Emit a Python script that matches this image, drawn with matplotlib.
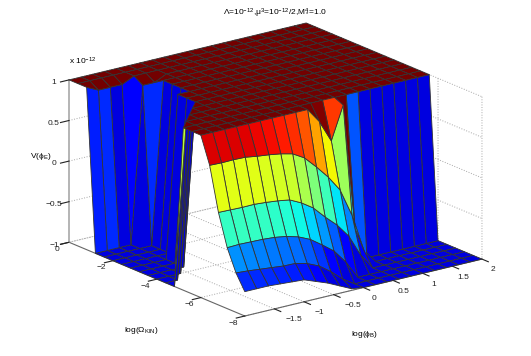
import numpy as np
import matplotlib
matplotlib.use("Agg")
import matplotlib.pyplot as plt
from matplotlib.colors import Normalize
from mpl_toolkits.mplot3d.art3d import Poly3DCollection

plt.rcParams["font.family"] = ["Liberation Sans", "DejaVu Sans"]
plt.rcParams["mathtext.fontset"] = "custom"
plt.rcParams["mathtext.rm"] = "Liberation Sans"
plt.rcParams["mathtext.it"] = "Liberation Sans"
plt.rcParams["mathtext.default"] = "regular"
plt.rcParams["grid.color"] = "#a8a8a8"
plt.rcParams["grid.linestyle"] = ":"
plt.rcParams["grid.linewidth"] = 0.7

phi = [-2.0, -1.8, -1.6, -1.4, -1.2, -1.0, -0.8, -0.6, -0.4, -0.2, 0.0,
       0.2, 0.4, 0.6, 0.8, 1.0, 1.2, 1.4, 1.6, 1.8, 2.0]
omega = [-8.0, -7.6, -7.2, -6.8, -6.4, -6.0, -5.6, -5.2, -4.8, -4.4, -4.0,
         -3.6, -3.2, -2.8, -2.4, -2.0, -1.6, -1.2, -0.8, -0.4, 0.0]

# V in units of 1e-12, clipped to the z range, one row per omega value
V = [
    [-0.70, -0.70, -0.70, -0.71, -0.72, -0.73, -0.785, -0.84, -0.91, -0.98] + [-1.0] * 11,
    [-0.515, -0.525, -0.54, -0.555, -0.57, -0.574, -0.61, -0.675, -0.78, -0.906] + [-1.0] * 11,
    [-0.25, -0.244, -0.248, -0.252, -0.263, -0.286, -0.327, -0.393, -0.496, -0.606, -0.777] + [-1.0] * 10,
    [0.14, 0.136, 0.132, 0.134, 0.123, 0.107, 0.084, 0.012, -0.085, -0.232, -0.365, -0.537, -0.806] + [-1.0] * 8,
    [0.675, 0.67, 0.673, 0.669, 0.646, 0.629, 0.606, 0.571, 0.486, 0.34, 0.18, -0.014, -0.358, -0.825] + [-1.0] * 7,
    [1.0] * 10 + [0.815, 0.545, 0.95, -0.6] + [-1.0] * 7,
    [1.0] * 21,
    [1.0] * 21,
    [-1.0] + [1.0] * 20,
    [-1.0] * 2 + [1.0] * 19,
    [-1.0] * 3 + [1.0] * 18,
    [-1.0] * 4 + [1.0] * 17,
    [-1.0] * 4 + [1.0] * 17,
    [-1.0] * 4 + [1.0] * 17,
    [-1.0] * 5 + [1.0] * 16,
    [-1.0] * 5 + [1.0] * 16,
    [-1.0] * 5 + [1.0] * 16,
    [-1.0] * 4 + [0.93, 0.93] + [1.0] * 15,
    [1.0, 0.93, 0.93, 0.93] + [1.0] * 17,
    [1.0] * 21,
    [1.0] * 21,
]

phi_ticks = [-1.5, -1, -0.5, 0, 0.5, 1, 1.5, 2]
phi_labels = ["\u22121.5", "\u22121", "\u22120.5", "0", "0.5", "1", "1.5", "2"]
omega_ticks = [-8, -6, -4, -2, 0]
omega_labels = ["\u22128", "\u22126", "\u22124", "\u22122", "0"]
v_ticks = [-1, -0.5, 0, 0.5, 1]
v_labels = ["\u22121", "\u22120.5", "0", "0.5", "1"]

# plateau corners left of the pit edge, (row, col) index triples into V
plateau_tips = [((10, 4), (11, 4), (10, 3)), ((9, 3), (10, 3), (9, 2)),
                ((8, 2), (9, 2), (8, 1)), ((7, 1), (8, 1), (7, 0))]

X, Y = np.meshgrid(phi, omega)
Z = np.array(V)

# colour of a facet comes from its lowest-index corner, as in the original surf
C = np.maximum(Z, -0.85)
for r in range(8, 20):                         # pit walls stay blue
    for c in range(5):
        if Z[r:r + 2, c:c + 2].min() <= -1:
            C[r, c] = -0.85
C[7, 0] = 0.05                                 # green sliver at the pit edge
C[5, 13] = -0.62
for c, val in [(0, -0.72), (1, -0.70), (3, -0.78)]:
    C[17, c] = val
C[16, 4] = -0.70
norm = Normalize(-1.0, 0.82)
fcolors = plt.cm.jet(norm(C))
plateau_red = (0.45, 0, 0, 1)
fcolors[C > 0.9] = plateau_red

fig = plt.figure(figsize=(5.31, 3.56), dpi=100)
ax = fig.add_axes([51.1 / 531, -37.9 / 356, 437 / 531, 437 / 356], projection="3d")
ax.patch.set_alpha(0)
ax.set_proj_type("ortho")
ax.view_init(elev=18.5, azim=-127.1)
ax.set_box_aspect((297, 291, 171))
ax.computed_zorder = False

ax.plot_surface(X, Y, Z, facecolors=fcolors, rstride=1, cstride=1, shade=False,
                edgecolor="#333333", linewidth=0.6, antialiased=True, zorder=1)
tips = [[(X[r, c], Y[r, c], Z[r, c]) for r, c in tri] for tri in plateau_tips]
ax.add_collection3d(Poly3DCollection(tips, facecolor=plateau_red, edgecolor="#333333",
                                     linewidth=0.6, zorder=2))

ax.set_xlim(-2, 2, view_margin=0)
ax.set_ylim(-8, 0, view_margin=0)
ax.set_zlim(-1, 1, view_margin=0)
ax.set_xticks(phi_ticks, phi_labels, va="bottom")
ax.set_yticks(omega_ticks, omega_labels, va="bottom")
ax.set_zticks(v_ticks, v_labels)
for lab in ax.get_xticklabels()[:3]:           # negative labels sit right of their ticks
    lab.set_ha("left")
ax.tick_params(labelsize=6, colors="#222222")
ax.tick_params(axis="x", pad=2)
ax.tick_params(axis="y", pad=0)
ax.tick_params(axis="z", pad=-2)

for axis in (ax.xaxis, ax.yaxis, ax.zaxis):
    axis.set_pane_color((1, 1, 1, 0))
    axis.pane.set_edgecolor((1, 1, 1, 0))
    axis.line.set_color("#666666")
    axis.line.set_linewidth(0.8)
    axis._axinfo["tick"]["inward_factor"] = 0.45
    axis._axinfo["tick"]["outward_factor"] = 0.0
    axis._axinfo["tick"]["color"] = "#555555"
ax.zaxis.line.set_color("#b4b4b4")
ax.zaxis.line.set_linewidth(1.4)

fig.text(275 / 531, 1 - 13 / 356, r"$\Lambda$=10$^{-12}$,$\mu^3$=10$^{-12}$/2,M$_*^4$=1.0",
         fontsize=6, ha="center", va="center")
fig.text(69 / 531, 1 - 61 / 356, r"x 10$^{-12}$", fontsize=6, ha="left", va="center")
fig.text(41 / 531, 1 - 157 / 356, r"V($\phi_E$)", fontsize=6, ha="center", va="center")
fig.text(141 / 531, 1 - 331 / 356, r"log($\Omega_{KIN}$)", fontsize=6, ha="center", va="center")
fig.text(365 / 531, 1 - 335 / 356, r"log($\phi_B$)", fontsize=6, ha="center", va="center")

fig.savefig("out.png", dpi=100)
